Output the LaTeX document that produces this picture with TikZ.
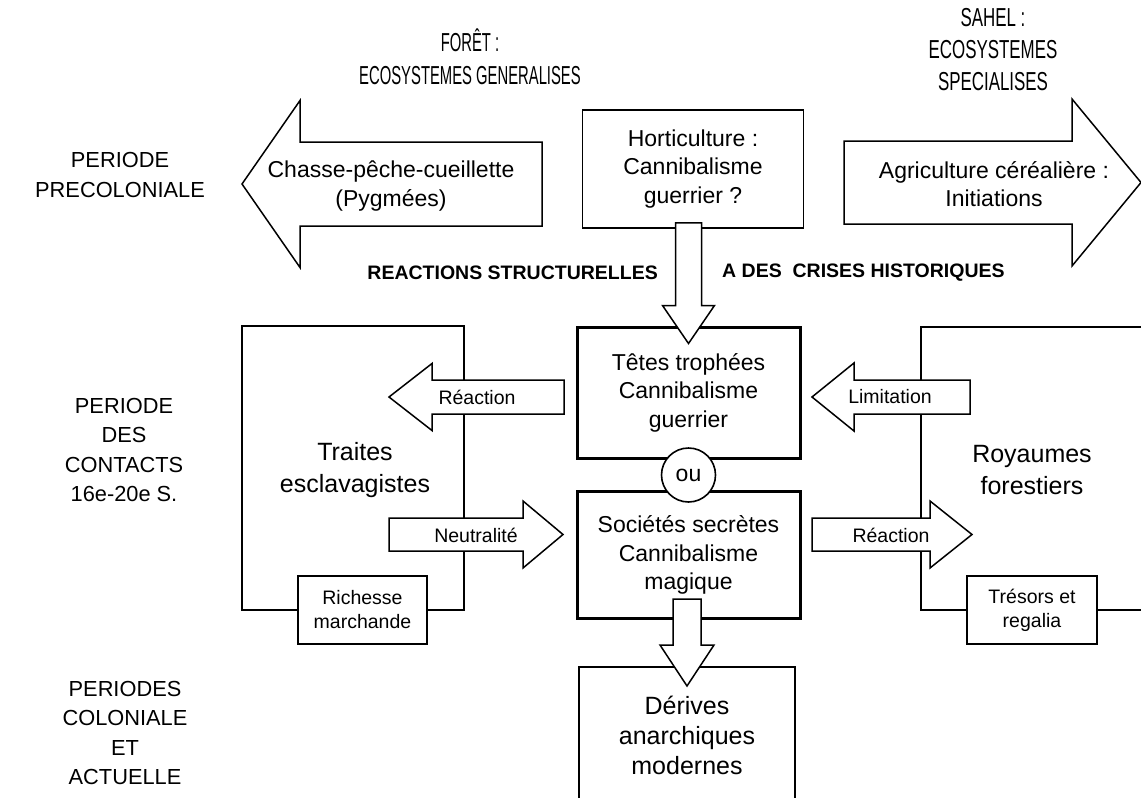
\documentclass[tikz,border=0pt]{standalone}
\usepackage{fontspec}
\setmainfont{Liberation Sans}
\newfontfamily\narrowA[FakeStretch=0.57]{Liberation Sans}
\newfontfamily\narrowB[FakeStretch=0.65]{Liberation Sans}
\usetikzlibrary{calc}
\newcommand{\blkarrow}[6]{% tip x, centre y, head base x, tail x, head half, shaft half
  \draw[barrow] (#1,#2) -- (#3,{#2-#5}) -- (#3,{#2-#6}) -- (#4,{#2-#6}) -- (#4,{#2+#6}) -- (#3,{#2+#6}) -- (#3,{#2+#5}) -- cycle;}
\tikzset{
  thinbox/.style={draw, line width=1.6pt, fill=white},
  thickbox/.style={draw, line width=3pt, fill=white},
  barrow/.style={draw, line width=1.5pt, fill=white, line join=miter},
  txt/.style={inner sep=0pt, align=center, text=black},
  boxfont/.style={font=\fontsize{23}{28.5}\selectfont},
  bigfont/.style={font=\fontsize{25}{32}\selectfont},
  smallfont/.style={font=\fontsize{19.5}{24}\selectfont},
  perfont/.style={font=\fontsize{21.8}{29.5}\selectfont},
  hdrAfont/.style={font=\narrowA\fontsize{26}{33}\selectfont},
  hdrBfont/.style={font=\narrowB\fontsize{26}{32}\selectfont},
  midfont/.style={font=\bfseries\fontsize{19.5}{24}\selectfont},
}
\begin{document}
\begin{tikzpicture}[x=1pt,y=-1pt]
\fill[white] (0,0) rectangle (1141,798);
\useasboundingbox (0,0) rectangle (1141,798);

% headers
\node[txt,hdrAfont] (foret) at (470,57) {FORÊT :\\ECOSYSTEMES GENERALISES};
\node[txt,hdrBfont] (sahel) at (993,50) {SAHEL :\\ECOSYSTEMES\\SPECIALISES};

% period labels
\node[txt,perfont] (per1) at (120,175) {PERIODE\\PRECOLONIALE};
\node[txt,perfont] (per2) at (124,450) {PERIODE\\DES\\CONTACTS\\16e-20e S.};
\node[txt,perfont] (per3) at (125,733) {PERIODES\\COLONIALE\\ET\\ACTUELLE};

% top row
\blkarrow{242}{184}{300}{542}{83.5}{42}
\node[txt,boxfont] (chasse) at (391,186) {Chasse-pêche-cueillette\\(Pygmées)};
\blkarrow{1141}{182.5}{1072}{844}{83.5}{41.5}
\node[txt,boxfont] (agri) at (994,184) {Agriculture céréalière :\\Initiations};
\node[thinbox,line width=1.8pt,minimum width=221pt,minimum height=118pt,txt,boxfont] (hort) at (693,169) {Horticulture :\\Cannibalisme\\guerrier ?};

% middle caption
\node[txt,midfont,anchor=east] (reac) at (658,273) {REACTIONS STRUCTURELLES};
\node[txt,midfont,anchor=west] (crises) at (722,273) {A DES\ \ CRISES HISTORIQUES};

% big side boxes
\draw[line width=1.6pt] (242,326) rectangle (464,610);
\node[txt,bigfont] (traites) at (355,470) {Traites\\esclavagistes};
\draw[line width=1.6pt] (1150,327) -- (921,327) -- (921,610) -- (1150,610);
\node[txt,bigfont] (royaumes) at (1032,470) {Royaumes\\forestiers};
\node[thinbox,minimum width=129pt,minimum height=68pt,txt,smallfont] (richesse) at (362.5,610) {Richesse\\marchande};
\node[thinbox,minimum width=130pt,minimum height=68pt,txt,smallfont] (tresors) at (1032,610) {Trésors et\\regalia};

% small arrows
\blkarrow{389}{397}{432}{564}{33.5}{17}
\node[txt,smallfont] (reacl) at (477,397) {Réaction};
\blkarrow{563}{534.5}{523}{389}{33.5}{16.5}
\node[txt,smallfont] (neutr) at (476,535) {Neutralité};
\blkarrow{812}{397}{854}{970}{34}{17}
\node[txt,smallfont] (limit) at (890,397) {Limitation};
\blkarrow{972}{534.5}{930}{812}{33.5}{16.5}
\node[txt,smallfont] (reacr) at (891,535) {Réaction};

% central boxes
\node[thickbox,minimum width=223pt,minimum height=131pt,txt,boxfont] (tetes) at (688.5,392.5) {Têtes trophées\\Cannibalisme\\guerrier};
\node[thickbox,minimum width=223pt,minimum height=127pt,txt,boxfont] (soc) at (688.5,555) {Sociétés secrètes\\Cannibalisme\\magique};
\node[circle,draw,line width=1.6pt,fill=white,minimum size=54pt,txt,boxfont] (ou) at (688.5,475) {ou};

% bottom box
\coordinate (dtop) at (687,667);
\draw[line width=1.6pt] (579,805) |- (795,667) -- (795,805);
\node[txt,font=\fontsize{25}{30}\selectfont] (derives) at (687,735) {Dérives\\anarchiques\\modernes};

% vertical arrows
\draw[barrow] let \p1=(hort.south), \p2=(tetes.north) in
  (\x2-13pt,\y1+6pt) -- (\x2+13pt,\y1+6pt) -- (\x2+13pt,\y2+20pt) -- (\x2+26pt,\y2+20pt)
  -- (\x2,\y2-18pt) -- (\x2-26pt,\y2+20pt) -- (\x2-13pt,\y2+20pt) -- cycle;
\draw[barrow] let \p1=(soc.south), \p2=(dtop) in
  (\x2-14pt,\y1+21pt) -- (\x2+14pt,\y1+21pt) -- (\x2+14pt,\y2+22pt) -- (\x2+27pt,\y2+22pt)
  -- (\x2,\y2-19pt) -- (\x2-27pt,\y2+22pt) -- (\x2-14pt,\y2+22pt) -- cycle;
\end{tikzpicture}
\end{document}
